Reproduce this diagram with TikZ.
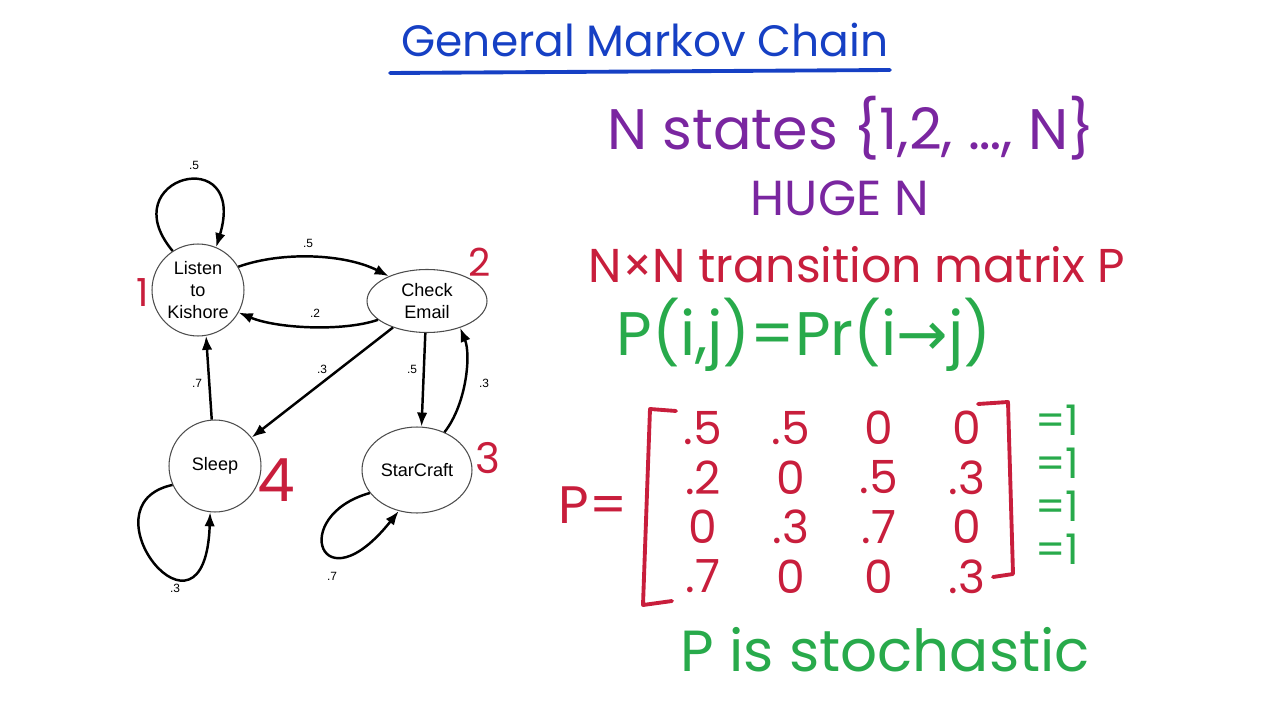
\documentclass[tikz,border=0pt]{standalone}
\usepackage{fontspec}
\usetikzlibrary{shapes.geometric,arrows.meta}
\newfontfamily\graphfont{Liberation Sans}
\newfontfamily\handfont{Poppins}
\newfontfamily\symfont{DejaVu Sans}
\definecolor{penblue}{RGB}{22,64,196}
\definecolor{penpurple}{RGB}{122,38,160}
\definecolor{penred}{RGB}{200,30,60}
\definecolor{pengreen}{RGB}{40,170,75}
\tikzset{
  stare/.style={draw=black!70,line width=0.6pt,align=center,inner sep=0pt,
    font=\graphfont\fontsize{10.3}{12.5}\selectfont},
  lbl/.style={font=\graphfont\fontsize{6.8}{8}\selectfont,inner sep=1pt},
  hand/.style={font=\handfont\fontsize{#1}{#1}\selectfont,inner sep=0pt},
  pen/.style={line width=2.2pt,line cap=round,line join=round}
}
\begin{document}
\begin{tikzpicture}[x=0.02cm,y=-0.02cm,>={Latex[length=8pt,width=6pt]},line width=1.4pt]
  \useasboundingbox (0,0) rectangle (1280,719);
  % titlu
  \node[hand=25,text=penblue] (titlu) at (645,40) {General Markov Chain};
  \draw[pen,penblue] (390,73) -- (890,70);

  % stari
  \node[stare,circle,minimum size=1.84cm] (listen) at (198,290) {Listen\\to\\Kishore};
  \node[stare,ellipse,minimum width=2.4cm,minimum height=1.26cm] (check) at (427,301) {Check\\Email};
  \node[stare,circle,minimum size=1.84cm] (sleep) at (215,466) {Sleep};
  \node[stare,ellipse,minimum width=2.2cm,minimum height=1.72cm] (star) at (417,470) {StarCraft};

  % numerele starilor
  \node[hand=22,text=penred] (n1) at (143,293) {1};
  \node[hand=22,text=penred] (n2) at (480,262) {2};
  \node[hand=24,text=penred] (n3) at (488,458) {3};
  \node[hand=34,text=penred] (n4) at (276,480) {4};

  % tranzitii
  \draw[->] (listen.123) .. controls +(-62,-74) and +(32,-106) .. (listen.67);
  \draw[->] (listen.30) .. controls +(45,-16) and +(-43,-22) .. (check.147);
  \draw[->] (check.201) .. controls +(-35,12) and +(38,16) .. (listen.331);
  \draw[->] (check) -- (sleep);
  \draw[->] (check.267) -- (star.84);
  \draw[->] (star.54) .. controls +(22,-28) and +(11,27) .. (check.321);
  \draw[->] (sleep.94) -- (listen.280);
  \draw[->] (sleep.204) .. controls +(-93,20) and +(-5,150) .. (sleep.264);
  \draw[->] (star.206) .. controls +(-82,23) and +(-78,98) .. (star.246);

  % probabilitati
  \node[lbl] (p11) at (194,165) {.5};
  \node[lbl] (p12) at (308,243) {.5};
  \node[lbl] (p21) at (315,313) {.2};
  \node[lbl] (p24) at (322,369) {.3};
  \node[lbl] (p23) at (412,369) {.5};
  \node[lbl] (p32) at (484,383) {.3};
  \node[lbl] (p41) at (197,383) {.7};
  \node[lbl] (p44) at (175,588) {.3};
  \node[lbl] (p33) at (332,576) {.7};

  % text
  \node[hand=32.5,text=penpurple] (stari) at (851,128) {N states \{1,2, \ldots, N\}};
  \node[hand=28,text=penpurple] (hugen) at (840,198) {HUGE N};
  \node[hand=27,text=penred] (tranz) at (857,265) {N×N transition matrix P};
  \node[hand=35,text=pengreen] (pij) at (804,335) {P(i,j)=Pr(i{\symfont →}j)};

  % matricea P
  \node[hand=30,text=penred] (peq) at (593,505) {P=};
  \foreach \rand [count=\r] in {{.5,.5,0,0},{.2,0,.5,.3},{0,.3,.7,0},{.7,0,0,.3}}
    \foreach \v [count=\c] in \rand
      \node[hand=26,text=penred] (m\r\c) at ({703+88*(\c-1)},{428+49.5*(\r-1)}) {\v};
  \draw[pen,penred] (676,411) -- (650,409) -- (643,605) -- (672,601);
  \draw[pen,penred] (978,404) -- (1008,402) -- (1013,574) -- (993,577);

  % suma pe linii
  \foreach \r in {1,...,4}
    \node[hand=24,text=pengreen] (suma\r) at (1057,{420+43*(\r-1)}) {=1};

  \node[hand=33,text=pengreen] (stoh) at (885,650) {P is stochastic};
\end{tikzpicture}
\end{document}
